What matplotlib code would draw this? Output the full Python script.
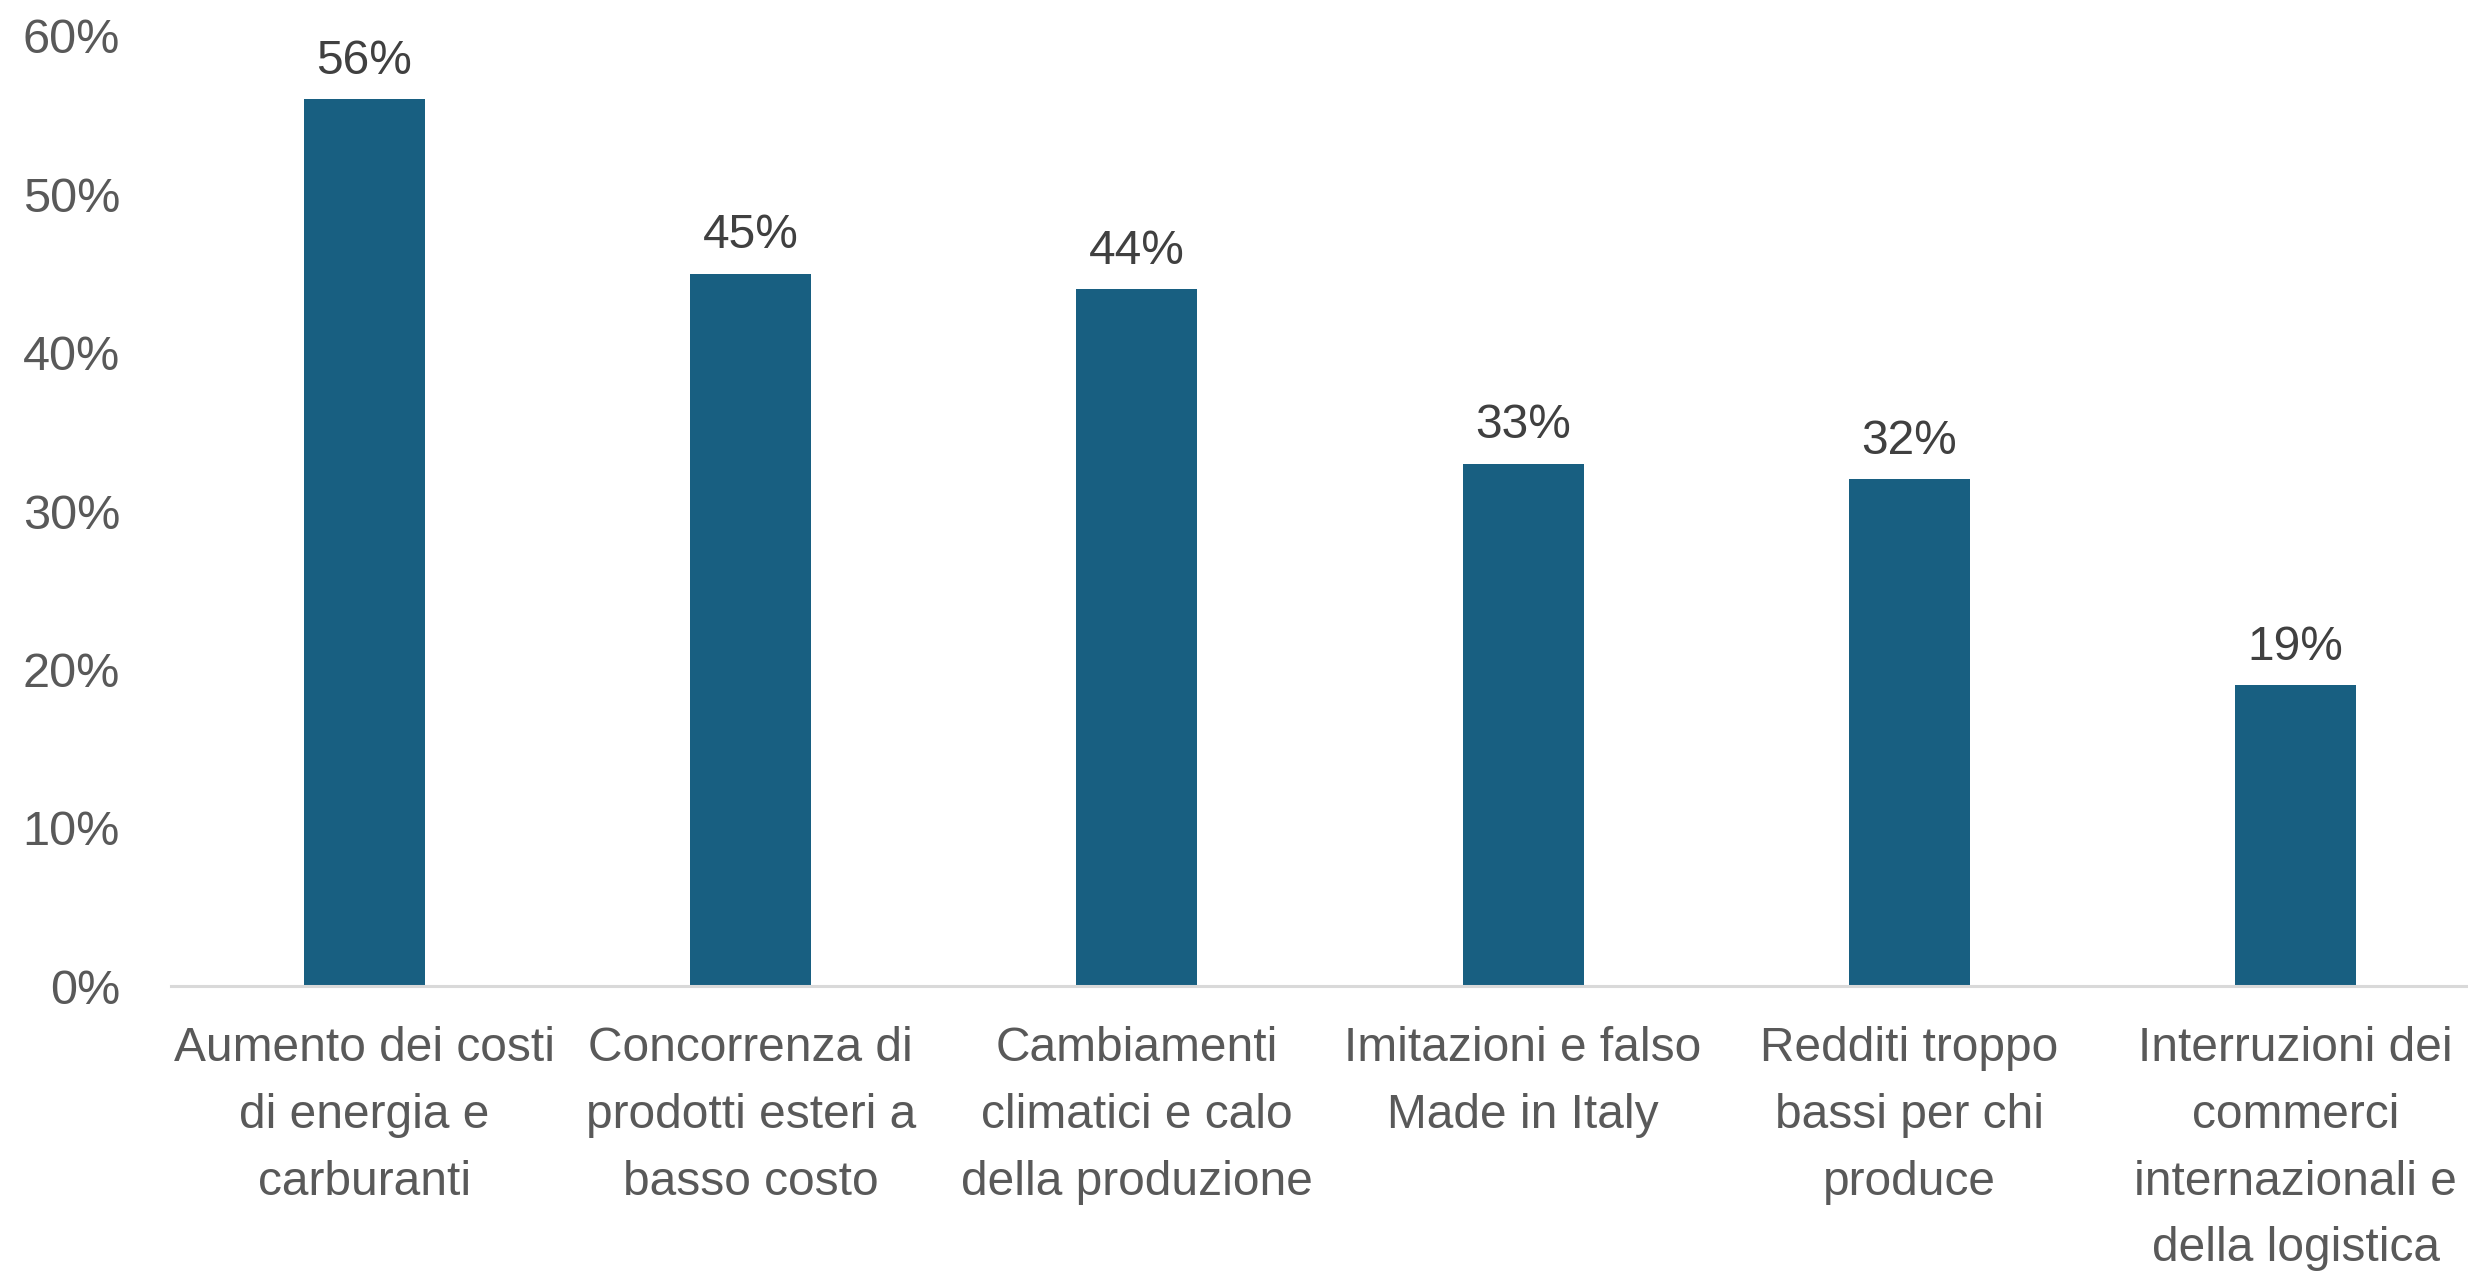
import matplotlib
matplotlib.use("Agg")
import matplotlib.pyplot as plt
from matplotlib.ticker import FuncFormatter, MultipleLocator

categories = [
    "Aumento dei costi\ndi energia e\ncarburanti",
    "Concorrenza di\nprodotti esteri a\nbasso costo",
    "Cambiamenti\nclimatici e calo\ndella produzione",
    "Imitazioni e falso\nMade in Italy",
    "Redditi troppo\nbassi per chi\nproduce",
    "Interruzioni dei\ncommerci\ninternazionali e\ndella logistica",
]
values = [56, 45, 44, 33, 32, 19]

BAR_COLOR = "#185f81"
TICK_COLOR = "#595959"
LABEL_COLOR = "#404040"
AXIS_COLOR = "#d9d9d9"

plt.rcParams["font.family"] = ["Liberation Sans", "DejaVu Sans"]

fig = plt.figure(figsize=(24.68, 12.72), dpi=100)
ax = fig.add_axes([0.06945, 0.2248, 0.9389, 0.7469])

x = list(range(len(categories)))
bars = ax.bar(x, values, width=0.313, color=BAR_COLOR, zorder=3)

for rect, v in zip(bars, values):
    ax.annotate(f"{v}%", xy=(rect.get_x() + rect.get_width() / 2, v),
                xytext=(0, 11), textcoords="offset points",
                ha="center", va="bottom", fontsize=34.5, color=LABEL_COLOR)

ax.set_xlim(-0.5, len(categories) - 0.5)
ax.set_ylim(0, 60)
ax.yaxis.set_major_locator(MultipleLocator(10))
ax.yaxis.set_major_formatter(FuncFormatter(lambda v, _: f"{v:.0f}%"))

ax.set_xticks(x)
ax.set_xticklabels(categories, fontsize=34.5, color=TICK_COLOR, linespacing=1.62)
ax.tick_params(axis="x", length=0, pad=29)
ax.tick_params(axis="y", length=0, pad=37, labelsize=35, labelcolor=TICK_COLOR)

for side in ("top", "right", "left"):
    ax.spines[side].set_visible(False)
ax.spines["bottom"].set_color(AXIS_COLOR)
ax.spines["bottom"].set_linewidth(2.2)
ax.spines["bottom"].set_zorder(4)

fig.savefig("out.png", dpi=100, facecolor="white")
